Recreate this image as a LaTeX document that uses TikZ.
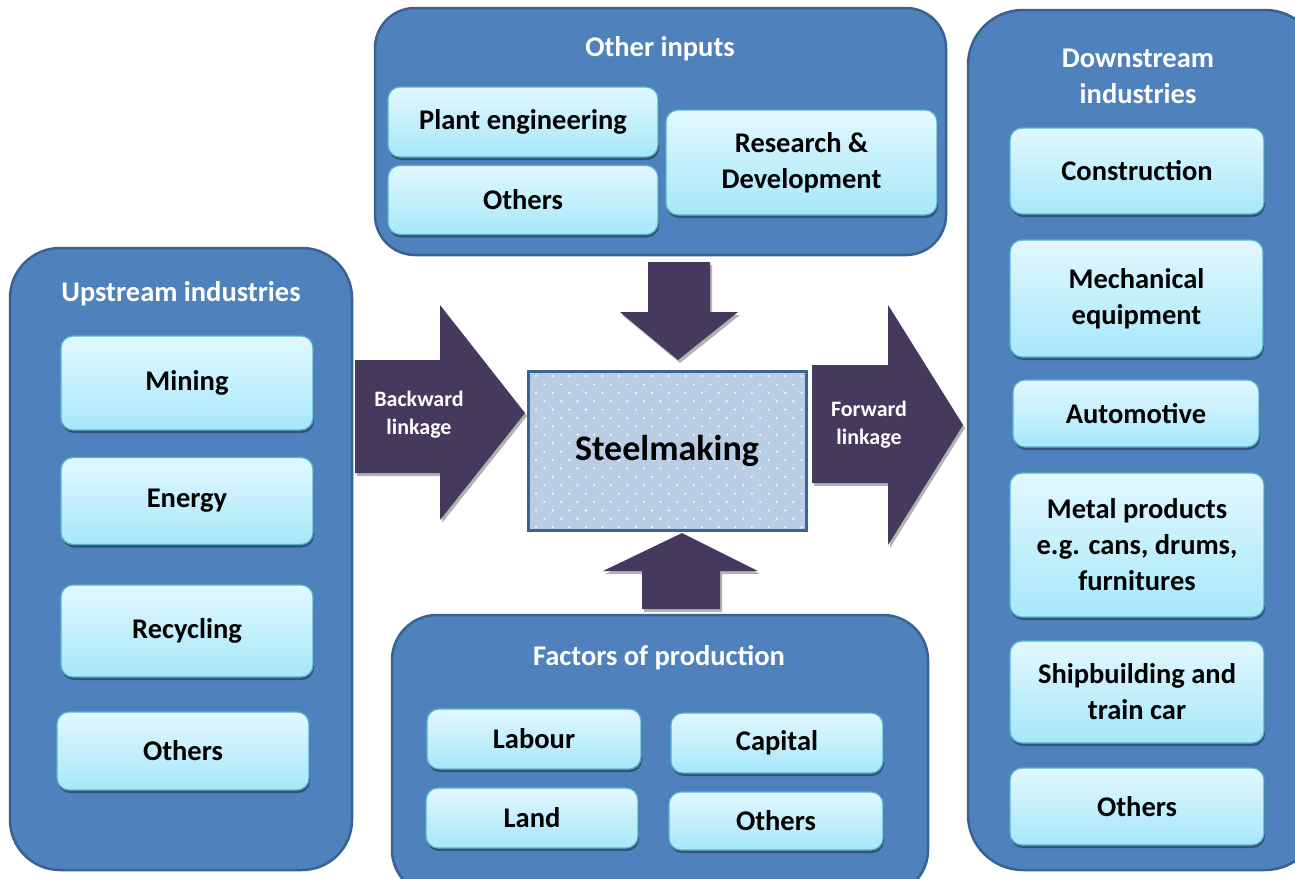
\documentclass[tikz,border=0pt]{standalone}
\usepackage{fontspec}
\setmainfont{Carlito}
\usepackage{tikz}
\usetikzlibrary{shadows}

\definecolor{secfill}{HTML}{4F81BD}
\definecolor{secedge}{HTML}{3A6291}
\definecolor{itemtop}{HTML}{E2F8FE}
\definecolor{itembot}{HTML}{A6E7FA}
\definecolor{itemedge}{HTML}{55B3CC}
\definecolor{arrowfill}{HTML}{46395E}
\definecolor{steelfill}{HTML}{B9CDE5}
\definecolor{steeledge}{HTML}{3A6596}

\tikzset{
  sector/.style={draw=secedge, line width=2.5pt, fill=secfill, inner sep=0pt},
  heading/.style={text=white, font=\fontsize{28.5}{36}\selectfont\bfseries, align=center},
  item/.style={draw=itemedge, line width=1.2pt, rounded corners=12pt,
    top color=itemtop, bottom color=itembot, inner sep=0pt,
    font=\fontsize{28.5}{36}\selectfont\bfseries, align=center,
    drop shadow={shadow xshift=1pt, shadow yshift=-3pt, opacity=.35, fill=black}},
  blockarrow/.style={fill=arrowfill,
    drop shadow={shadow xshift=2pt, shadow yshift=-3pt, opacity=.3, fill=black}},
  linkage/.style={text=white, font=\fontsize{22}{28}\selectfont\bfseries, align=center}
}

\begin{document}
\begin{tikzpicture}[x=1pt,y=-1pt]
\useasboundingbox (0,0) rectangle (1295,878);
\clip (0,0) rectangle (1295,878);
\fill[white] (0,0) rectangle (1295,878);

% the four sectors
\node[sector, rounded corners=50pt, minimum width=342pt, minimum height=622pt] (upstream) at (181,559) {};
\node[sector, rounded corners=40pt, minimum width=571pt, minimum height=247pt] (inputs) at (660.5,131.5) {};
\node[sector, rounded corners=55pt, minimum width=352pt, minimum height=860pt] (downstream) at (1144,440) {};
\node[sector, rounded corners=45pt, minimum width=536pt, minimum height=280pt] (factors) at (660,755) {};

\node[heading] (upstreamtitle) at (181,294) {Upstream industries};
\node[heading] (inputstitle) at (660,49) {Other inputs};
\node[heading] (downstreamtitle) at (1138,76) {Downstream\\industries};
\node[heading] (factorstitle) at (659,658) {Factors of production};

% upstream
\node[item, minimum width=252pt, minimum height=94pt] (mining) at (187,383) {Mining};
\node[item, minimum width=252pt, minimum height=87pt] (energy) at (187,501) {Energy};
\node[item, minimum width=252pt, minimum height=92pt] (recycling) at (187,631) {Recycling};
\node[item, minimum width=252pt, minimum height=78pt] (upothers) at (183,751) {Others};

% other inputs
\node[item, minimum width=270pt, minimum height=70pt] (plant) at (523,122) {Plant engineering};
\node[item, minimum width=270pt, minimum height=69pt] (inothers) at (523,200) {Others};
\node[item, minimum width=271pt, minimum height=105pt] (research) at (801.5,162.5) {Research \&\\Development};

% downstream
\node[item, minimum width=254pt, minimum height=86pt] (construction) at (1137,171) {Construction};
\node[item, minimum width=253pt, minimum height=117pt] (mechanical) at (1136.5,298.5) {Mechanical\\equipment};
\node[item, minimum width=246pt, minimum height=67pt] (automotive) at (1136,413.5) {Automotive};
\node[item, minimum width=254pt, minimum height=144pt] (metal) at (1137,545) {Metal products\\e.g. cans, drums,\\furnitures};
\node[item, minimum width=254pt, minimum height=102pt] (shipbuilding) at (1137,692) {Shipbuilding and\\train car};
\node[item, minimum width=254pt, minimum height=77pt] (downothers) at (1137,806.5) {Others};

% factors of production
\node[item, minimum width=214pt, minimum height=60pt] (labour) at (534,739) {Labour};
\node[item, minimum width=212pt, minimum height=60pt] (capital) at (777,743) {Capital};
\node[item, minimum width=212pt, minimum height=60pt] (land) at (532,818) {Land};
\node[item, minimum width=214pt, minimum height=58pt] (facothers) at (776,821) {Others};

% steelmaking: fill, white dots, then frame and text
\node[fill=steelfill, minimum width=278pt, minimum height=159pt] (steelbox) at (667,450.5) {};
\begin{scope}
  \clip (steelbox.north west) rectangle (steelbox.south east);
  \foreach \r in {0,...,18}
    \foreach \c in {0,...,17}
      \fill[white] ({536+16.6*\c+8.3*mod(\r,2)},{376+8.4*\r}) circle (1.1pt);
\end{scope}
\node[draw=steeledge, line width=3pt, minimum width=278pt, minimum height=159pt,
  font=\fontsize{36}{42}\selectfont\bfseries] (steel) at (steelbox.center) {Steelmaking};

% block arrows
\fill[blockarrow] (355,360) -- (440,360) -- (440,305) -- (525,413) -- (440,520) -- (440,473) -- (355,473) -- cycle;
\fill[blockarrow] (812,365) -- (888,365) -- (888,305) -- (963,425) -- (888,545) -- (888,483) -- (812,483) -- cycle;
\fill[blockarrow] (648,262) -- (710,262) -- (710,312) -- (738,312) -- (678,360) -- (620,312) -- (648,312) -- cycle;
\fill[blockarrow] (642,609) -- (720,609) -- (720,571) -- (758,571) -- (682,533) -- (603,571) -- (642,571) -- cycle;

\node[linkage] (backward) at (419,415) {Backward\\linkage};
\node[linkage] (forward) at (869,425) {Forward\\linkage};
\end{tikzpicture}
\end{document}
